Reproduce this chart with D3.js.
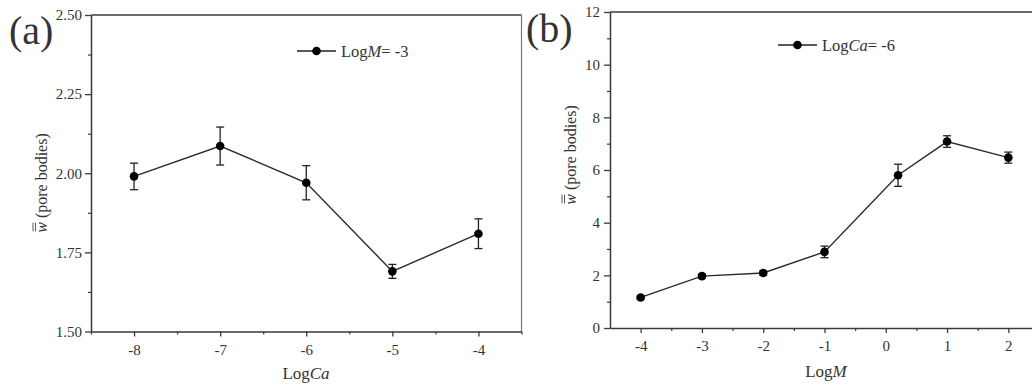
<!DOCTYPE html>
<html>
<head>
<meta charset="utf-8">
<script src="https://cdn.jsdelivr.net/npm/d3@7"></script>
<style>
  html, body { margin: 0; padding: 0; background: #fff; }
  svg { display: block; }
  svg text { font-family: "Liberation Serif", "DejaVu Serif", serif !important; fill: #333; }
</style>
</head>
<body>
<svg id="chart" width="1032" height="392"></svg>
<script>
// ---- Panel (a): LogM = -3, varying LogCa ----
const aCategories = [-8, -7, -6, -5, -4];
const aValues = [1.99, 2.086, 1.97, 1.69, 1.809];
const aErrors = [0.042, 0.06, 0.054, 0.022, 0.047];
const aXTicks = [-8, -7, -6, -5, -4];
const aYTicks = [1.50, 1.75, 2.00, 2.25, 2.50];
const aXDomain = [-8.5, -3.5];
const aYDomain = [1.5, 2.5];

// ---- Panel (b): LogCa = -6, varying LogM ----
const bCategories = [-4, -3, -2, -1, 0.2, 1, 2];
const bValues = [1.16, 1.97, 2.09, 2.89, 5.8, 7.08, 6.47];
const bErrors = [0.06, 0.08, 0.08, 0.22, 0.42, 0.22, 0.21];
const bXTicks = [-4, -3, -2, -1, 0, 1, 2];
const bYTicks = [0, 2, 4, 6, 8, 10, 12];
const bXDomain = [-4.5, 2.5];
const bYDomain = [0, 12];

const svg = d3.select("#chart");
const axisColor = "#3a3a3a";

function drawPanel(cfg) {
  const g = svg.append("g");
  const x = d3.scaleLinear().domain(cfg.xDomain).range([cfg.left, cfg.right]);
  const y = d3.scaleLinear().domain(cfg.yDomain).range([cfg.bottom, cfg.top]);

  // frame (top & right)
  g.append("line").attr("x1", cfg.left).attr("x2", cfg.right)
    .attr("y1", cfg.top).attr("y2", cfg.top)
    .attr("stroke", axisColor).attr("stroke-width", 1.5);
  g.append("line").attr("x1", cfg.right).attr("x2", cfg.right)
    .attr("y1", cfg.top).attr("y2", cfg.bottom)
    .attr("stroke", "#777").attr("stroke-width", 1.2);

  const xAxisMinor = d3.axisBottom(x).tickValues(cfg.xMinor).tickSize(3).tickFormat("");
  const yAxisMinor = d3.axisLeft(y).tickValues(cfg.yMinor).tickSize(3).tickFormat("");
  const xAx = d3.axisBottom(x).tickValues(cfg.xTicks).tickSize(5).tickSizeOuter(0)
    .tickFormat(d => d3.format("d")(d).replace("−", "-"));
  const yAx = d3.axisLeft(y).tickValues(cfg.yTicks).tickSize(6).tickSizeOuter(0)
    .tickFormat(cfg.yFormat);

  const gxm = g.append("g").attr("transform", `translate(0,${cfg.bottom})`).call(xAxisMinor);
  const gym = g.append("g").attr("transform", `translate(${cfg.left},0)`).call(yAxisMinor);
  [gxm, gym].forEach(s => { s.select(".domain").remove(); s.selectAll("line").attr("stroke", axisColor).attr("stroke-width", 1.2); });

  const gx = g.append("g").attr("transform", `translate(0,${cfg.bottom})`).call(xAx);
  const gy = g.append("g").attr("transform", `translate(${cfg.left},0)`).call(yAx);
  [gx, gy].forEach(s => {
    s.attr("font-family", null);
    s.select(".domain").attr("stroke", axisColor).attr("stroke-width", 1.5);
    s.selectAll(".tick line").attr("stroke", axisColor).attr("stroke-width", 1.3);
    s.selectAll("text").attr("font-size", 15).attr("fill", "#444");
  });
  gx.selectAll("text").attr("dy", "1.0em");
  gy.selectAll("text").attr("x", cfg.yLabelOffset);

  const data = cfg.categories.map((c, i) => ({ x: c, y: cfg.values[i], e: cfg.errors[i] }));

  g.append("path").datum(data)
    .attr("fill", "none").attr("stroke", "#2a2a2a").attr("stroke-width", 1.4)
    .attr("d", d3.line().x(d => x(d.x)).y(d => y(d.y)));

  const eb = g.append("g").selectAll("g").data(data).join("g");
  eb.append("line").attr("x1", d => x(d.x)).attr("x2", d => x(d.x))
    .attr("y1", d => y(d.y - d.e)).attr("y2", d => y(d.y + d.e))
    .attr("stroke", "#222").attr("stroke-width", 1.3);
  eb.append("line").attr("x1", d => x(d.x) - 4).attr("x2", d => x(d.x) + 4)
    .attr("y1", d => y(d.y + d.e)).attr("y2", d => y(d.y + d.e))
    .attr("stroke", "#222").attr("stroke-width", 1.3);
  eb.append("line").attr("x1", d => x(d.x) - 4).attr("x2", d => x(d.x) + 4)
    .attr("y1", d => y(d.y - d.e)).attr("y2", d => y(d.y - d.e))
    .attr("stroke", "#222").attr("stroke-width", 1.3);

  g.append("g").selectAll("circle").data(data).join("circle")
    .attr("cx", d => x(d.x)).attr("cy", d => y(d.y)).attr("r", 4.3).attr("fill", "#000");

  // legend
  const lg = g.append("g");
  lg.append("line").attr("x1", cfg.legend.x1).attr("x2", cfg.legend.x2)
    .attr("y1", cfg.legend.y).attr("y2", cfg.legend.y)
    .attr("stroke", "#222").attr("stroke-width", 1.4);
  lg.append("circle").attr("cx", (cfg.legend.x1 + cfg.legend.x2) / 2).attr("cy", cfg.legend.y)
    .attr("r", 4.3).attr("fill", "#000");
  const lt = lg.append("text").attr("x", cfg.legend.x2 + 5).attr("y", cfg.legend.y + 5.5)
    .attr("font-size", 16.5);
  lt.append("tspan").text("Log");
  lt.append("tspan").attr("font-style", "italic").text(cfg.legend.italic);
  lt.append("tspan").text(cfg.legend.rest);

  // x label
  const xl = g.append("text").attr("x", cfg.xLabelX)
    .attr("y", cfg.xLabelY).attr("text-anchor", "middle").attr("font-size", 17);
  xl.append("tspan").text("Log");
  xl.append("tspan").attr("font-style", "italic").text(cfg.xLabelItalic);

  // y label (rotated)
  const yg = g.append("g").attr("transform", `translate(${cfg.yLabelX},${cfg.yLabelCY}) rotate(-90)`);
  const yt = yg.append("text").attr("x", 0).attr("y", 0).attr("text-anchor", "middle").attr("font-size", 16);
  yt.append("tspan").attr("font-style", "italic").text("w");
  yt.append("tspan").text(" (pore bodies)");
  const total = yt.node().getComputedTextLength();
  const wLen = yt.node().getSubStringLength(0, 1);
  const x0 = -total / 2;
  [-11.5, -14].forEach(dy => {
    yg.append("line").attr("x1", x0 + 1.5).attr("x2", x0 + wLen - 0.5)
      .attr("y1", dy).attr("y2", dy).attr("stroke", "#444").attr("stroke-width", 0.9);
  });

  svg.append("text").attr("x", cfg.tag.x).attr("y", cfg.tag.y)
    .attr("font-size", 40).attr("fill", "#1a1a1a").text(cfg.tag.text);
}

drawPanel({
  left: 91, right: 521.5, top: 15, bottom: 331.5,
  xDomain: aXDomain, yDomain: aYDomain,
  xTicks: aXTicks, yTicks: aYTicks,
  xMinor: [-8.5, -7.5, -6.5, -5.5, -4.5, -3.5],
  yMinor: [1.625, 1.875, 2.125, 2.375],
  yFormat: d3.format(".2f"),
  yLabelOffset: -9,
  categories: aCategories, values: aValues, errors: aErrors,
  legend: { x1: 297, x2: 336, y: 51, italic: "M", rest: "= -3" },
  xLabelX: 306, xLabelY: 379, xLabelItalic: "Ca",
  yLabelX: 47, yLabelCY: 183,
  tag: { x: 9, y: 44, text: "(a)" }
});

drawPanel({
  left: 610, right: 1039, top: 12, bottom: 328,
  xDomain: bXDomain, yDomain: bYDomain,
  xTicks: bXTicks, yTicks: bYTicks,
  xMinor: [-3.5, -2.5, -1.5, -0.5, 0.5, 1.5],
  yMinor: [1, 3, 5, 7, 9, 11],
  yFormat: d3.format("d"),
  yLabelOffset: -10,
  categories: bCategories, values: bValues, errors: bErrors,
  legend: { x1: 778, x2: 817, y: 45, italic: "Ca", rest: "= -6" },
  xLabelX: 826, xLabelY: 377, xLabelItalic: "M",
  yLabelX: 576, yLabelCY: 155,
  tag: { x: 526, y: 42, text: "(b)" }
});
</script>
</body>
</html>
